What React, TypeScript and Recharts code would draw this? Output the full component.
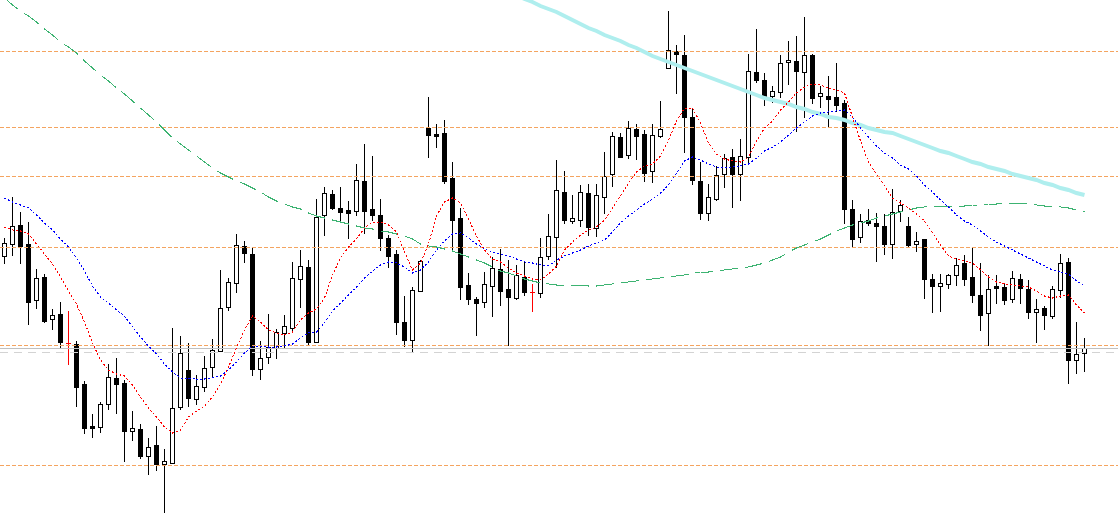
import { ComposedChart, XAxis, YAxis, Bar, Line, ReferenceLine } from "recharts";

// candle prices, one entry per bar (oldest first)
const opens = [
  124.4, 125.6, 127.5, 125.6, 120.0, 122.3, 118.1, 118.6, 115.7, 115.6,
  111.6, 107.4, 107.3, 109.6, 112.2, 111.7, 106.9, 107.1, 104.4, 105.5,
  103.6, 103.7, 109.3, 113.0, 110.1, 111.3, 113.3, 114.9, 119.3, 121.7,
  125.4, 124.6, 113.1, 114.3, 115.2, 116.7, 117.2, 122.1, 123.3, 115.8,
  128.5, 130.6, 129.2, 129.0, 128.9, 131.9, 129.1, 128.5, 126.2, 124.6,
  117.8, 116.0, 120.9, 137.2, 136.6, 136.7, 132.2, 128.2, 121.5, 120.1,
  119.8, 121.4, 123.1, 121.1, 120.2, 122.3, 120.8, 120.7, 124.4, 126.3,
  130.8, 127.9, 128.0, 130.7, 127.2, 130.3, 132.6, 136.3, 134.5, 137.1,
  136.6, 132.9, 136.4, 143.2, 144.9, 144.5, 138.3, 131.9, 128.7, 130.1,
  132.6, 134.3, 132.6, 134.3, 142.8, 142.0, 140.4, 140.8, 143.8, 143.9,
  142.8, 144.5, 140.4, 140.4, 140.3, 139.7, 129.1, 126.3, 128.0, 127.7,
  127.4, 125.6, 128.9, 127.4, 125.6, 126.1, 122.1, 121.4, 121.6, 122.5,
  123.7, 122.3, 120.5, 118.7, 121.4, 121.3, 120.1, 122.1, 121.1, 118.8,
  119.2, 118.4, 121.0, 123.8, 114.0, 114.7,
];

const highs = [
  126.2, 130.3, 128.8, 127.8, 123.1, 122.6, 119.1, 119.8, 118.9, 115.9,
  111.9, 108.6, 109.8, 113.6, 114.2, 112.0, 108.9, 107.6, 106.2, 107.4,
  105.1, 117.2, 116.4, 115.7, 112.5, 114.4, 116.1, 123.0, 122.2, 126.6,
  125.9, 125.3, 115.9, 118.6, 117.1, 118.5, 123.8, 125.0, 124.0, 130.1,
  131.3, 131.0, 131.3, 129.9, 133.6, 135.6, 134.4, 130.1, 126.5, 125.0,
  120.4, 121.3, 124.0, 140.3, 137.6, 138.0, 133.8, 129.2, 122.7, 120.3,
  122.8, 124.3, 125.1, 124.0, 123.5, 123.8, 121.6, 126.2, 128.6, 134.0,
  132.9, 130.5, 131.5, 131.6, 131.6, 134.8, 136.8, 136.7, 137.9, 137.6,
  137.0, 137.6, 139.9, 148.9, 145.5, 146.5, 139.2, 133.8, 131.6, 133.4,
  134.6, 135.1, 136.1, 144.6, 147.1, 142.7, 141.4, 144.5, 145.9, 146.4,
  148.3, 144.6, 141.4, 142.4, 143.7, 140.0, 130.0, 128.6, 129.1, 128.7,
  128.6, 131.1, 130.0, 128.3, 126.8, 126.1, 122.6, 122.6, 122.6, 124.2,
  124.5, 125.3, 123.7, 122.5, 122.5, 121.7, 122.9, 122.6, 122.0, 120.1,
  119.4, 121.4, 124.6, 124.2, 117.8, 116.2,
];

const lows = [
  123.7, 124.5, 123.7, 117.6, 119.2, 117.8, 117.1, 115.2, 113.6, 109.4,
  106.7, 106.3, 106.8, 109.1, 108.7, 103.9, 106.0, 104.2, 102.6, 103.0,
  98.8, 103.7, 109.1, 109.4, 109.6, 110.9, 112.3, 114.9, 119.0, 120.8,
  123.8, 112.5, 112.1, 113.7, 114.2, 115.3, 116.9, 119.3, 115.6, 115.8,
  126.5, 129.1, 128.0, 126.2, 128.5, 126.7, 128.0, 125.0, 123.3, 116.6,
  115.4, 114.8, 120.9, 134.3, 135.3, 131.7, 124.9, 120.1, 119.6, 116.5,
  119.3, 118.4, 119.5, 115.5, 120.1, 120.5, 118.9, 120.3, 124.1, 123.3,
  127.7, 127.7, 127.4, 126.5, 126.4, 128.7, 131.4, 134.3, 134.2, 134.1,
  131.9, 131.8, 136.3, 143.2, 140.7, 134.8, 131.6, 128.1, 128.0, 130.0,
  131.3, 129.3, 130.0, 133.8, 141.8, 139.5, 139.8, 140.3, 141.6, 136.9,
  138.3, 139.7, 139.3, 137.4, 138.9, 127.7, 125.3, 125.8, 127.5, 123.9,
  124.6, 124.2, 127.9, 125.3, 124.9, 120.2, 118.8, 118.9, 121.2, 121.5,
  121.5, 119.8, 117.0, 115.5, 119.7, 119.6, 119.8, 119.7, 118.2, 115.8,
  117.1, 118.2, 120.3, 111.7, 112.7, 112.9,
];

const closes = [
  125.7, 127.4, 125.4, 119.8, 122.2, 117.9, 118.5, 115.8, 115.7, 111.3,
  107.2, 107.2, 109.6, 112.3, 111.6, 106.9, 107.2, 104.4, 105.3, 103.6,
  103.9, 109.2, 114.7, 110.2, 111.4, 113.2, 115.0, 119.2, 121.8, 125.5,
  124.7, 113.1, 114.2, 115.3, 116.8, 117.4, 122.2, 123.4, 115.8, 128.3,
  130.7, 129.2, 128.8, 128.7, 132.0, 128.9, 128.5, 126.2, 124.4, 117.8,
  116.0, 121.0, 123.9, 136.5, 136.4, 131.9, 128.0, 121.3, 120.1, 119.7,
  121.6, 123.2, 120.9, 120.3, 122.5, 120.8, 120.8, 124.3, 126.4, 131.0,
  128.0, 128.2, 130.8, 127.3, 130.5, 132.4, 136.4, 134.3, 137.2, 136.4,
  132.7, 136.5, 137.1, 145.0, 144.6, 138.3, 132.0, 128.7, 130.3, 132.5,
  134.2, 132.6, 134.4, 142.9, 142.0, 140.2, 140.9, 143.7, 144.0, 142.9,
  144.5, 140.2, 140.7, 140.1, 139.5, 129.1, 126.1, 127.9, 127.7, 127.4,
  125.6, 128.8, 129.5, 125.5, 125.9, 122.1, 121.4, 121.7, 122.5, 123.5,
  122.1, 120.5, 118.5, 121.1, 121.2, 120.0, 122.2, 121.2, 118.8, 119.1,
  118.5, 121.1, 123.7, 114.0, 114.6, 115.2,
];

// moving averages
const maFast = [
  127.3, 127.0, 126.9, 126.6, 125.6, 124.6, 123.6, 122.3, 120.9, 119.6,
  117.8, 115.7, 114.0, 113.0, 112.6, 112.4, 111.5, 110.3, 109.2, 108.3,
  107.3, 106.7, 107.0, 108.3, 108.9, 109.4, 110.3, 111.6, 113.3, 115.2,
  117.0, 118.4, 117.8, 117.0, 116.7, 116.5, 116.8, 118.0, 118.7, 119.1,
  120.2, 122.5, 124.2, 125.3, 126.1, 127.2, 127.8, 127.8, 127.5, 126.8,
  124.8, 123.0, 123.7, 125.6, 128.4, 129.8, 130.2, 129.7, 128.1, 126.4,
  125.0, 124.1, 123.8, 123.2, 122.7, 122.4, 122.1, 122.0, 122.6, 123.4,
  125.0, 125.8, 126.5, 127.0, 127.3, 128.0, 129.2, 130.4, 131.7, 132.8,
  133.4, 133.6, 134.4, 136.0, 137.9, 139.2, 139.2, 137.7, 135.7, 134.6,
  134.1, 133.9, 133.8, 134.3, 135.9, 137.2, 137.9, 139.0, 139.8, 140.7,
  141.3, 141.6, 141.5, 141.2, 141.0, 140.7, 138.3, 135.9, 133.8, 132.6,
  131.4, 130.2, 129.7, 129.2, 128.6, 127.9, 126.7, 125.5, 124.4, 124.1,
  123.9, 123.7, 123.0, 122.3, 121.8, 121.6, 121.5, 121.4, 121.3, 120.9,
  120.4, 120.2, 120.4, 120.5, 119.5, 118.7,
];

const maMid = [
  130.2, 129.8, 129.5, 129.2, 128.5, 127.7, 127.0, 126.1, 125.3, 124.2,
  122.9, 121.4, 120.3, 119.7, 119.0, 118.4, 117.3, 116.3, 115.4, 114.6,
  113.6, 112.8, 112.2, 112.2, 112.1, 112.1, 112.2, 112.4, 113.0, 113.8,
  114.7, 115.4, 115.4, 115.3, 115.3, 115.4, 115.6, 116.2, 116.7, 116.8,
  117.7, 118.9, 119.7, 120.5, 121.3, 122.2, 122.9, 123.5, 123.8, 123.7,
  123.3, 122.7, 123.0, 123.8, 125.0, 125.9, 126.6, 126.7, 126.2, 125.6,
  125.1, 124.8, 124.6, 124.4, 124.1, 123.8, 123.7, 123.5, 123.4, 124.0,
  124.4, 124.7, 125.0, 125.4, 125.7, 126.0, 126.8, 127.7, 128.4, 129.0,
  129.6, 130.1, 130.7, 131.5, 132.7, 133.9, 134.3, 134.0, 133.6, 133.3,
  133.2, 133.3, 133.4, 133.6, 134.2, 134.9, 135.3, 135.8, 136.5, 137.2,
  137.8, 138.4, 138.7, 138.8, 138.9, 139.0, 138.3, 137.2, 136.3, 135.4,
  134.7, 134.2, 133.5, 133.1, 132.4, 131.5, 130.8, 130.0, 129.3, 128.5,
  127.9, 127.5, 126.9, 126.3, 125.8, 125.4, 125.0, 124.6, 124.2, 123.8,
  123.4, 123.0, 122.8, 122.6, 121.9, 121.4,
];

const maSlow = [
  150.2, 149.5, 148.9, 148.4, 147.8, 147.1, 146.5, 145.8, 145.3, 144.7,
  143.9, 143.2, 142.5, 141.9, 141.2, 140.6, 139.9, 139.2, 138.5, 137.8,
  137.0, 136.2, 135.6, 135.0, 134.4, 133.8, 133.2, 132.7, 132.3, 131.9,
  131.6, 131.2, 130.8, 130.3, 129.9, 129.6, 129.3, 129.1, 128.7, 128.4,
  128.2, 128.0, 127.8, 127.6, 127.4, 127.2, 127.1, 126.9, 126.8, 126.6,
  126.4, 126.1, 125.6, 125.4, 125.3, 125.1, 124.9, 124.6, 124.3, 124.0,
  123.7, 123.3, 122.9, 122.7, 122.4, 122.1, 121.9, 121.7, 121.6, 121.5,
  121.5, 121.5, 121.5, 121.4, 121.4, 121.5, 121.6, 121.7, 121.8, 121.9,
  122.0, 122.1, 122.2, 122.3, 122.4, 122.5, 122.7, 122.8, 122.8, 122.9,
  123.0, 123.1, 123.2, 123.3, 123.5, 123.7, 124.0, 124.3, 124.8, 125.2,
  125.5, 125.8, 126.1, 126.5, 126.9, 127.2, 127.5, 127.7, 127.9, 128.2,
  128.4, 128.6, 128.8, 129.0, 129.2, 129.3, 129.4, 129.4, 129.4, 129.4,
  129.4, 129.5, 129.5, 129.6, 129.6, 129.7, 129.7, 129.7, 129.6, 129.5,
  129.4, 129.4, 129.3, 129.2, 129.0, 128.8,
];

// long MA only appears from bar 64 on
const maLongStart = 64;
const maLong = [
  150.5, 150.1, 149.8, 149.4, 149.1, 148.8,
  148.4, 148.0, 147.6, 147.2, 146.9, 146.5, 146.2, 145.9, 145.5, 145.2,
  144.8, 144.4, 144.1, 143.8, 143.5, 143.2, 142.9, 142.6, 142.3, 142.0,
  141.7, 141.4, 141.1, 140.8, 140.5, 140.2, 140.0, 139.8, 139.6, 139.3,
  139.1, 138.8, 138.6, 138.3, 138.2, 138.0, 137.7, 137.5, 137.2, 137.0,
  136.8, 136.7, 136.4, 136.1, 135.8, 135.5, 135.2, 134.9, 134.7, 134.4,
  134.1, 133.8, 133.6, 133.3, 133.1, 132.9, 132.6, 132.4, 132.2, 132.0,
  131.7, 131.5, 131.2, 131.0, 130.7, 130.5,
];

// horizontal levels drawn on the chart
const levels = [144.85, 137.25, 132.35, 125.25, 115.45, 103.45];
const bidLevel = 115.15;
const greyLevel = 114.75;

const data = opens.map((open, i) => ({
  i,
  open,
  high: highs[i],
  low: lows[i],
  close: closes[i],
  fast: maFast[i],
  mid: maMid[i],
  slow: maSlow[i],
  long: i >= maLongStart ? maLong[i - maLongStart] : null,
}));

function Candle(props: any) {
  const { x, y, width, height, payload } = props;
  if (!payload || x == null || y == null) return null;
  const { open, close, high, low } = payload;
  const span = high - low || 1;
  const toY = (p: number) => Math.round(y + ((high - p) / span) * height);
  const cx = Math.floor(x + width / 2) + 0.5;
  const yHigh = toY(high);
  const yLow = toY(low);

  if (open === close) {
    const yo = toY(open) + 0.5;
    return (
      <g>
        <line x1={cx} x2={cx} y1={yHigh} y2={yLow + 1} stroke="#ff0000" />
        <line x1={cx - 2.5} x2={cx + 2.5} y1={yo} y2={yo} stroke="#ff0000" />
      </g>
    );
  }

  const top = Math.min(toY(open), toY(close));
  const bottom = Math.max(toY(open), toY(close));
  const bull = close > open;

  return (
    <g>
      <line x1={cx} x2={cx} y1={yHigh} y2={yLow + 1} stroke="#000" />
      {bull ? (
        <rect
          x={cx - 2}
          y={top + 0.5}
          width={4}
          height={Math.max(bottom - top, 1)}
          fill="#fff"
          stroke="#000"
          strokeWidth={1}
        />
      ) : (
        <rect x={cx - 2.5} y={top} width={5} height={bottom - top + 1} fill="#000" />
      )}
    </g>
  );
}

export default function App() {
  return (
    <div style={{ position: "absolute", left: 0, top: 0, background: "#fff" }}>
      <ComposedChart
        width={1118}
        height={521}
        data={data}
        margin={{ top: 0, right: 0, bottom: 0, left: 0 }}
      >
        <XAxis
          dataKey="i"
          type="number"
          domain={[-0.5625, 139.1875]}
          allowDataOverflow
          hide
        />
        <YAxis domain={[97.9, 150]} allowDataOverflow hide />

        {levels.map((v) => (
          <ReferenceLine key={v} y={v} stroke="#f4a460" strokeDasharray="4 2" />
        ))}
        <ReferenceLine y={bidLevel} stroke="#c0c0c0" />
        <ReferenceLine y={greyLevel} stroke="#d3d3d3" strokeDasharray="8 6" />

        <Line
          type="linear"
          dataKey="long"
          stroke="#afeeee"
          strokeWidth={4}
          dot={false}
          activeDot={false}
          isAnimationActive={false}
        />
        <Line
          type="linear"
          dataKey="slow"
          stroke="#3cb371"
          strokeDasharray="18 7"
          shapeRendering="crispEdges"
          dot={false}
          activeDot={false}
          isAnimationActive={false}
        />
        <Line
          type="linear"
          dataKey="mid"
          stroke="#0000ff"
          strokeDasharray="2 2"
          shapeRendering="crispEdges"
          dot={false}
          activeDot={false}
          isAnimationActive={false}
        />
        <Line
          type="linear"
          dataKey="fast"
          stroke="#ff0000"
          strokeDasharray="2 2"
          shapeRendering="crispEdges"
          dot={false}
          activeDot={false}
          isAnimationActive={false}
        />

        <Bar
          dataKey={(d: any) => [d.low, d.high]}
          barSize={5}
          shape={(p: any) => <Candle {...p} />}
          isAnimationActive={false}
        />
      </ComposedChart>
    </div>
  );
}
